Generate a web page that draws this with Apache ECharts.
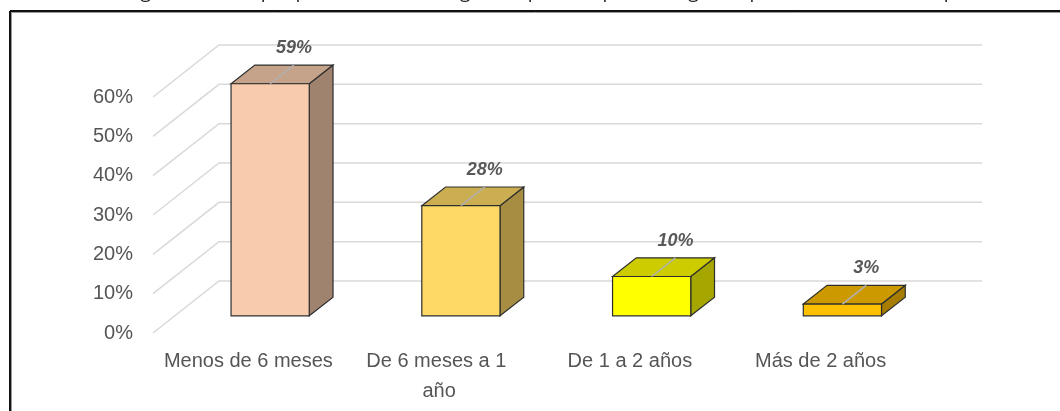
<!DOCTYPE html>
<html>
<head>
    <meta charset="utf-8">
    <title>Tiempo para encontrar empleo</title>
    <script src="https://cdn.jsdelivr.net/npm/echarts/dist/echarts.min.js"></script>
    <style>
        html, body {margin: 0; padding: 0; background: #ffffff;}
        #chart {width: 1060px; height: 411px;}
    </style>
</head>
<body>
<div id="chart"></div>
<script>
    var titleText = 'Figura 11. Tiempo que tardó en conseguir empleo después de egresar para encontrar un empleo';
    var categories = ['Menos de 6 meses', 'De 6 meses a 1 año', 'De 1 a 2 años', 'Más de 2 años'];
    var values = [59, 28, 10, 3];
    var yTicks = [0, 10, 20, 30, 40, 50, 60];

    // front / top / side colours of each 3d column
    var frontColors = ['#f8cbad', '#ffd966', '#ffff00', '#ffc000'];
    var topColors = ['#c5a28a', '#ccae52', '#cccc00', '#cc9a00'];
    var sideColors = ['#a0836f', '#a68d42', '#a6a600', '#a67d00'];

    // depth of the back wall in pixels, bars sit in the middle of it
    var DX = 66, DY = -52;
    var FRONT = 0.33, BACK = 0.69;

    var chart = echarts.init(document.getElementById('chart'));

    function renderWallLine(params, api) {
        var v = api.value(1);
        var first = api.coord([0, v]);
        var last = api.coord([categories.length - 1, v]);
        var band = api.size([1, 0])[0];
        var x0 = first[0] - band / 2, x1 = last[0] + band / 2, y = first[1];
        return {
            type: 'polyline',
            shape: {points: [[x0, y], [x0 + DX, y + DY], [x1 + DX, y + DY]]},
            style: {stroke: '#d9d9d9', lineWidth: 1.5, fill: null}
        };
    }

    function renderBar(params, api) {
        var i = params.dataIndex;
        var v = api.value(1);
        var base = api.coord([api.value(0), 0]);
        var top = api.coord([api.value(0), v]);
        var band = api.size([1, 0])[0];
        var w = band * 0.41;
        var xl = base[0] - w / 2 + DX * FRONT, xr = xl + w;
        var yb = base[1] + DY * FRONT, yt = top[1] + DY * FRONT;
        var dx = DX * (BACK - FRONT), dy = DY * (BACK - FRONT);
        var edge = {stroke: '#2e2e2e', lineWidth: 1.2};
        var xm = (xl + xr) / 2;
        return {
            type: 'group',
            children: [
                {type: 'polygon', shape: {points: [[xr, yt], [xr + dx, yt + dy], [xr + dx, yb + dy], [xr, yb]]},
                    style: Object.assign({fill: sideColors[i]}, edge)},
                {type: 'polygon', shape: {points: [[xl, yt], [xl + dx, yt + dy], [xr + dx, yt + dy], [xr, yt]]},
                    style: Object.assign({fill: topColors[i]}, edge)},
                {type: 'rect', shape: {x: xl, y: yt, width: w, height: yb - yt},
                    style: Object.assign({fill: frontColors[i]}, edge)},
                {type: 'line', shape: {x1: xm, y1: yt, x2: xm + dx, y2: yt + dy},
                    style: {stroke: '#b0b0b0', lineWidth: 1.5}},
                {type: 'text', style: {
                    text: v + '%', x: xm + dx, y: yt + dy - 17, align: 'center', verticalAlign: 'middle',
                    fill: '#595959', font: 'italic bold 18px "Liberation Sans", Arial, sans-serif'
                }}
            ]
        };
    }

    var option = {
        backgroundColor: '#ffffff',
        animation: false,
        graphic: [
            {type: 'text', style: {
                text: titleText, x: 554, y: 2, align: 'center', verticalAlign: 'bottom',
                fill: '#1a1a1a', font: '19px "Open Sans", sans-serif'
            }, z: 10},
            {type: 'line', shape: {x1: 10, y1: 11, x2: 1060, y2: 11}, style: {stroke: '#111111', lineWidth: 2}},
            {type: 'line', shape: {x1: 11, y1: 12.5, x2: 1060, y2: 12.5}, style: {stroke: '#9a9a9a', lineWidth: 1}},
            {type: 'line', shape: {x1: 10, y1: 11, x2: 10, y2: 411}, style: {stroke: '#111111', lineWidth: 2}},
            {type: 'line', shape: {x1: 11.5, y1: 12, x2: 11.5, y2: 411}, style: {stroke: '#9a9a9a', lineWidth: 1}}
        ],
        grid: {left: 153, right: 144, top: 97, bottom: 78, containLabel: false},
        xAxis: {
            type: 'category',
            data: categories,
            axisLine: {show: false},
            axisTick: {show: false},
            axisLabel: {
                interval: 0, margin: 13, width: 175, overflow: 'break', lineHeight: 30,
                color: '#555555', fontSize: 20, fontFamily: '"Liberation Sans", Arial, sans-serif'
            }
        },
        yAxis: {
            type: 'value',
            min: 0,
            max: 60,
            interval: 10,
            axisLine: {show: false},
            axisTick: {show: false},
            splitLine: {show: false},
            axisLabel: {
                formatter: '{value}%', margin: 20, padding: [3, 0, 0, 0],
                color: '#555555', fontSize: 20, fontFamily: '"Liberation Sans", Arial, sans-serif'
            }
        },
        series: [
            {
                type: 'custom',
                renderItem: renderWallLine,
                data: yTicks.map(function (t) { return [0, t]; }),
                z: 1,
                silent: true
            },
            {
                type: 'custom',
                renderItem: renderBar,
                data: values.map(function (v, i) { return [i, v]; }),
                z: 2
            }
        ]
    };
    chart.setOption(option);
</script>
</body>
</html>
